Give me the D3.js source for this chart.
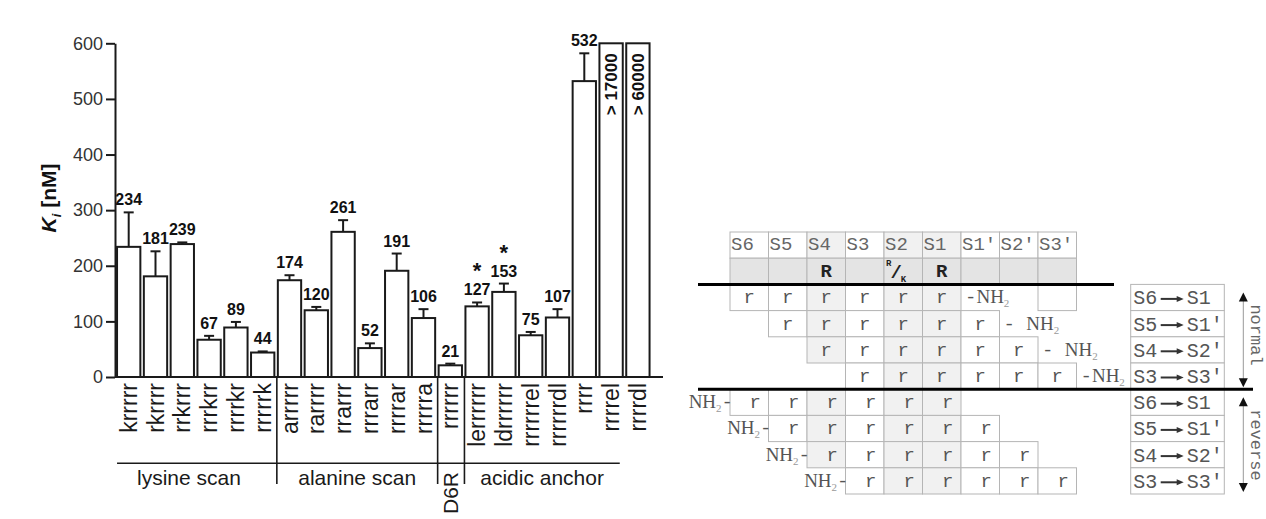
<!DOCTYPE html>
<html><head><meta charset="utf-8">
<script src="https://cdn.jsdelivr.net/npm/d3@7"></script>
<style>body{margin:0;background:#fff}</style>
</head><body><svg id="c" width="1266" height="519"></svg>
<script>
// ---------------- data: bar chart ----------------
const categories = ["krrrrr","rkrrrr","rrkrrr","rrrkrr","rrrrkr","rrrrrk",
  "arrrrr","rarrrr","rrarrr","rrrarr","rrrrar","rrrrra",
  "rrrrrr",
  "lerrrrrr","ldrrrrrr","rrrrrrel","rrrrrrdl","rrrr","rrrrel","rrrrdl"];
const values = [234,181,239,67,89,44,174,120,261,52,191,106,21,127,153,75,107,532,17000,60000];
const errors = [62,45,3,7,10,2,9,6,21,8.5,31,16,3,7,15,6,15,50,null,null];
const valueLabels = ["234","181","239","67","89","44","174","120","261","52","191","106","21","127","153","75","107","532","> 17000","> 60000"];
const starred = ["lerrrrrr","ldrrrrrr"];
const groupNames = ["lysine scan","alanine scan","D6R","acidic anchor"];
const groupFirst = ["krrrrr","arrrrr","rrrrrr","lerrrrrr"];
const groupLast  = ["rrrrrk","rrrrra","rrrrrr","rrrrel"];
const yTicks = [0,100,200,300,400,500,600];
const yMax = 600;

// ---------------- data: subsite table ----------------
const subsites = ["S6","S5","S4","S3","S2","S1","S1'","S2'","S3'"];
const consensus = ["","","R","","R/K","R","","",""];
const keyCols = ["S4","S2","S1"];
const peptide = ["r","r","r","r","r","r"];
const normalStart = ["S6","S5","S4","S3"];
const reverseStart = ["S6","S5","S4","S3"];
const normalDash = ["-","- ","- ","-"];
const spanFrom = ["S6","S5","S4","S3"];
const spanTo = ["S1","S1'","S2'","S3'"];
const modes = ["normal","reverse"];
const emptyCells = [["normal",0,"S3'"]];

const SANS = "'Liberation Sans', Arial, Helvetica, sans-serif";
const MONO = "'Liberation Mono', 'Courier New', monospace";
const SERIF = "'Liberation Serif', 'Times New Roman', serif";

const svg = d3.select("#c");
svg.append("rect").attr("width",1266).attr("height",519).attr("fill","#fff");

// ---------------- scales ----------------
const x = d3.scaleBand().domain(categories).range([115.3, 651.3]).paddingInner(0.13).paddingOuter(0.065);
const y = d3.scaleLinear().domain([0, yMax]).range([377, 43.3]).clamp(true);
const bw = x.bandwidth();
const cx = c => x(c) + bw/2;

const data = categories.map((c,i)=>({c, v:values[i], e:errors[i], lab:valueLabels[i]}));

// bars
svg.append("g").selectAll("rect").data(data).join("rect")
  .attr("x", d=>x(d.c)).attr("y", d=>y(d.v))
  .attr("width", bw).attr("height", d=>y(0)-y(d.v))
  .attr("fill","#fff").attr("stroke","#1a1a1a").attr("stroke-width",2);

// error bars
const eb = svg.append("g").attr("stroke","#1a1a1a").attr("stroke-width",2);
data.filter(d=>d.e!=null).forEach(d=>{
  eb.append("line").attr("x1",cx(d.c)).attr("x2",cx(d.c)).attr("y1",y(d.v)).attr("y2",y(d.v+d.e));
  eb.append("line").attr("x1",cx(d.c)-5).attr("x2",cx(d.c)+5).attr("y1",y(d.v+d.e)).attr("y2",y(d.v+d.e));
});

// value labels
const lg = svg.append("g").attr("font-family",SANS).attr("font-weight","bold").attr("fill","#111");
data.forEach(d=>{
  if (d.v <= yMax) {
    const base = y(d.v + (d.e||0)) - 7;
    lg.append("text").attr("x",cx(d.c)).attr("y",base).attr("text-anchor","middle")
      .attr("font-size",16).text(d.lab);
    if (starred.includes(d.c)) {
      lg.append("text").attr("x",cx(d.c)).attr("y",base-17).attr("text-anchor","middle")
        .attr("font-size",22).text("*");
    }
  } else {
    lg.append("text").attr("transform",`translate(${cx(d.c)},${y(yMax)+10}) rotate(-90)`)
      .attr("dy","0.36em").attr("text-anchor","end").attr("font-size",17).text(d.lab);
  }
});

// y axis
const gy = svg.append("g").attr("transform","translate(115,0)")
  .call(d3.axisLeft(y).tickValues(yTicks).tickSize(9).tickSizeOuter(0).tickPadding(3));
gy.attr("font-family",SANS).attr("font-size",18);
gy.select(".domain").attr("stroke","#1a1a1a").attr("stroke-width",2);
gy.selectAll(".tick line").attr("stroke","#1a1a1a").attr("stroke-width",2);
gy.selectAll(".tick text").attr("fill","#333");

// y label
const yl = svg.append("text").attr("transform","translate(56,198) rotate(-90)")
  .attr("text-anchor","middle").attr("font-family",SANS).attr("font-size",21)
  .attr("font-weight","bold").attr("fill","#111");
yl.append("tspan").attr("font-style","italic").text("K");
yl.append("tspan").attr("font-style","italic").attr("font-size",13).attr("dy",5).text("i");
yl.append("tspan").attr("dy",-5).text(" [nM]");

// x axis
const gx = svg.append("g").attr("transform","translate(0,377)")
  .call(d3.axisBottom(x).tickSize(0).tickSizeOuter(0));
gx.attr("font-family",SANS).attr("font-size",23);
gx.select(".domain").attr("d","M115,0H663").attr("stroke","#1a1a1a").attr("stroke-width",2);
gx.selectAll(".tick text").attr("transform","rotate(-90)").attr("x",-6).attr("y",0)
  .attr("dy","0.35em").style("text-anchor","end").attr("fill","#1a1a1a");

// group brackets
const gg = svg.append("g").attr("stroke","#1a1a1a").attr("stroke-width",1.6);
const lineEnd = x(groupLast[groupLast.length-1]) + bw - 3;
gg.append("line").attr("x1",x(groupFirst[0])).attr("x2",lineEnd).attr("y1",463.3).attr("y2",463.3);
groupFirst.slice(1).forEach(f=>{
  gg.append("line").attr("x1",x(f)-1).attr("x2",x(f)-1).attr("y1",377).attr("y2",484);
});
const gt = svg.append("g").attr("font-family",SANS).attr("font-size",21).attr("fill","#1a1a1a");
groupNames.forEach((n,i)=>{
  const left = i===0 ? x(groupFirst[0]) - 16 : x(groupFirst[i])-1;
  const right = i===groupNames.length-1 ? lineEnd : x(groupFirst[i+1])-1;
  if (groupFirst[i]===groupLast[i]) {
    gt.append("text").attr("transform",`translate(${cx(groupFirst[i])},472) rotate(-90)`)
      .attr("dy","0.36em").attr("text-anchor","end").text(n);
  } else {
    gt.append("text").attr("x",(left+right)/2).attr("y",485).attr("text-anchor","middle").text(n);
  }
});

// ---------------- subsite table ----------------
const col = d3.scaleBand().domain(subsites).range([730, 730+9*38.5]);
const cw = col.bandwidth();
const row = d3.scaleBand().domain(d3.range(10)).range([232, 494]);
const rh = row.bandwidth();
const tb = svg.append("g");
const cellStroke = "#b5b5b5";
const txt = "#555";

function cell(r, s, fill) {
  tb.append("rect").attr("x",col(s)).attr("y",row(r)).attr("width",cw).attr("height",rh)
    .attr("fill",fill).attr("stroke",cellStroke).attr("stroke-width",1);
}
// header
subsites.forEach(s=>{
  cell(0, s, keyCols.includes(s) ? "#f1f1f1" : "#fff");
  tb.append("text").attr("x",col(s)+1).attr("y",row(0)+18).attr("font-family",MONO)
    .attr("font-size",19).attr("fill","#666").text(s);
});
// consensus
subsites.forEach((s,i)=>{
  cell(1, s, "#e4e4e4");
  const c = consensus[i];
  if (c==="R") {
    tb.append("text").attr("x",col(s)+cw/2).attr("y",row(1)+18.5).attr("text-anchor","middle")
      .attr("font-family",MONO).attr("font-weight","bold").attr("font-size",19).attr("fill","#222").text(c);
  } else if (c.includes("/")) {
    const [a,b] = c.split("/");
    const t = tb.append("text").attr("x",col(s)+2).attr("y",row(1)+8).attr("font-family",MONO)
      .attr("font-weight","bold").attr("fill","#222");
    t.append("tspan").attr("font-size",9).text(a);
    t.append("tspan").attr("font-size",19).attr("dy",12).attr("dx",-1).text("/");
    t.append("tspan").attr("font-size",9).attr("dy",4).attr("dx",-1).text(b);
  }
});
// normal + reverse rows
function nh2(t){
  t.append("tspan").attr("font-family",SERIF).attr("font-size",19).text("NH");
  t.append("tspan").attr("font-family",SERIF).attr("font-size",11).attr("fill","#999").attr("dy",4).text("2");
}
normalStart.forEach((st,k)=>{
  const r = 2+k, i0 = subsites.indexOf(st);
  peptide.forEach((p,j)=>{
    const s = subsites[i0+j];
    cell(r, s, keyCols.includes(s) ? "#f1f1f1" : "#fff");
    tb.append("text").attr("x",col(s)+cw/2).attr("y",row(r)+19).attr("text-anchor","middle")
      .attr("font-family",MONO).attr("font-size",19).attr("fill",txt).text(p);
  });
  const endX = col(subsites[i0+peptide.length-1]) + cw;
  const t = tb.append("text").attr("x",endX+4).attr("y",row(r)+19).attr("fill",txt);
  t.append("tspan").attr("font-family",MONO).attr("font-size",19).attr("xml:space","preserve").text(normalDash[k]);
  nh2(t);
});
emptyCells.forEach(([m,k,s])=>{ cell(2+k, s, "#fff"); });
reverseStart.forEach((st,k)=>{
  const r = 6+k, i0 = subsites.indexOf(st);
  peptide.forEach((p,j)=>{
    const s = subsites[i0+j];
    cell(r, s, keyCols.includes(s) ? "#f1f1f1" : "#fff");
    tb.append("text").attr("x",col(s)+cw/2+6).attr("y",row(r)+19).attr("text-anchor","middle")
      .attr("font-family",MONO).attr("font-size",19).attr("fill",txt).text(p);
  });
  const t = tb.append("text").attr("x",col(st)+3).attr("y",row(r)+19).attr("text-anchor","end").attr("fill",txt);
  nh2(t);
  t.append("tspan").attr("font-family",MONO).attr("font-size",19).attr("dy",-4).text("-");
});

// span boxes
const bx0 = 1130.7, bxw = 93.6;
modes.forEach((m,mi)=>{
  spanFrom.forEach((f,k)=>{
    const r = 2 + mi*4 + k;
    tb.append("rect").attr("x",bx0).attr("y",row(r)).attr("width",bxw).attr("height",rh)
      .attr("fill","#fff").attr("stroke",cellStroke).attr("stroke-width",1);
    tb.append("text").attr("x",bx0+2.5).attr("y",row(r)+20).attr("font-family",MONO)
      .attr("font-size",20).attr("fill",txt).text(f);
    const ay = row(r)+14.5;
    tb.append("line").attr("x1",bx0+30).attr("x2",bx0+48).attr("y1",ay).attr("y2",ay)
      .attr("stroke","#333").attr("stroke-width",2);
    tb.append("path").attr("d",`M${bx0+53},${ay}L${bx0+46},${ay-3}L${bx0+46},${ay+3}Z`).attr("fill","#333");
    tb.append("text").attr("x",bx0+56).attr("y",row(r)+20).attr("font-family",MONO)
      .attr("font-size",20).attr("fill",txt).text(spanTo[k]);
  });
  // vertical double arrow
  const ax = 1243.3;
  const top = row(2+mi*4) + 8;
  const bot = row(2+mi*4) + 4*rh - 2;
  tb.append("line").attr("x1",ax).attr("x2",ax).attr("y1",top+6).attr("y2",bot-6)
    .attr("stroke","#999").attr("stroke-width",1);
  tb.append("path").attr("d",`M${ax},${top}L${ax-4.5},${top+9}L${ax+4.5},${top+9}Z`).attr("fill","#111");
  tb.append("path").attr("d",`M${ax},${bot}L${ax-4.5},${bot-9}L${ax+4.5},${bot-9}Z`).attr("fill","#111");
  tb.append("text").attr("transform",`translate(1251,${row(2+mi*4)+20}) rotate(90)`)
    .attr("font-family",MONO).attr("font-size",17).attr("fill","#666").text(m);
});

// thick separators
tb.append("line").attr("x1",698).attr("x2",1114).attr("y1",row(2)).attr("y2",row(2))
  .attr("stroke","#000").attr("stroke-width",3);
tb.append("line").attr("x1",698).attr("x2",1253).attr("y1",row(6)).attr("y2",row(6))
  .attr("stroke","#000").attr("stroke-width",3);
</script></body></html>
